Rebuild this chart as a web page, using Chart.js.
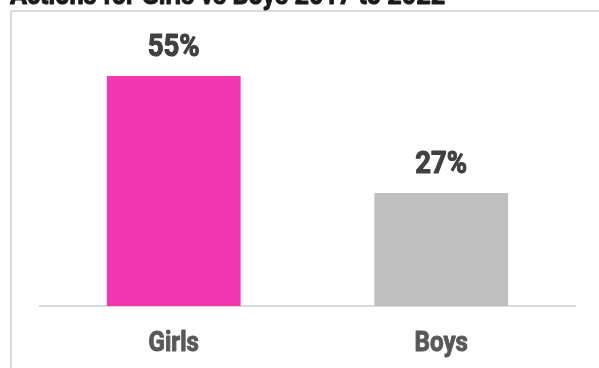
<!DOCTYPE html>
<html>
<head>
<meta charset="utf-8">
<script src="https://cdn.jsdelivr.net/npm/chart.js@4/dist/chart.umd.min.js"></script>
<style>
  html, body { margin: 0; padding: 0; background: #ffffff; }
  #wrap { position: relative; width: 599px; height: 368px; overflow: hidden; }
  #frame {
    position: absolute; left: 10px; top: 10px; width: 620px; height: 400px;
    border-left: 2px solid #dadada; border-top: 2px solid #dadada;
  }
  #chart { position: absolute; left: 0; top: 0; }
</style>
</head>
<body>
<div id="wrap">
  <div id="frame"></div>
  <canvas id="chart" width="599" height="368"></canvas>
</div>
<script>
// Share of actions by gender, 2017 to 2022
const titleText = 'Actions for Girls vs Boys 2017 to 2022';
const categories = ['Girls', 'Boys'];
const shares = [55, 27];
const barColors = ['#F337B1', '#BFBFBF'];

const FONT = 'Roboto, "Liberation Sans", sans-serif';

// bold face, narrowed horizontally and lightly stroked for weight
function squeezedText(ctx, text, x, y, size, color, squeeze) {
  ctx.save();
  ctx.font = '700 ' + size + 'px ' + FONT;
  ctx.fillStyle = color;
  ctx.strokeStyle = color;
  ctx.lineWidth = size * 0.035;
  ctx.lineJoin = 'round';
  ctx.textBaseline = 'alphabetic';
  ctx.translate(x, y);
  ctx.scale(squeeze, 1);
  ctx.fillText(text, 0, 0);
  ctx.strokeText(text, 0, 0);
  ctx.restore();
}

function squeezedCentered(ctx, text, cx, y, size, color, squeeze) {
  ctx.save();
  ctx.font = '700 ' + size + 'px ' + FONT;
  const w = ctx.measureText(text).width * squeeze;
  ctx.restore();
  squeezedText(ctx, text, cx - w / 2, y, size, color, squeeze);
}

const textPlugin = {
  id: 'chartText',
  afterDatasetsDraw(chart) {
    const ctx = chart.ctx;
    // heading
    squeezedText(ctx, titleText, 10, 4, 28, '#1a1a1a', 0.9);
    // value above each bar
    const meta = chart.getDatasetMeta(0);
    meta.data.forEach((bar, i) => {
      squeezedCentered(ctx, shares[i] + '%', bar.x, bar.y - 20, 32, '#404040', 0.86);
    });
    // category names under the axis
    const xs = chart.scales.x;
    categories.forEach((c, i) => {
      squeezedCentered(ctx, c, xs.getPixelForValue(i), chart.chartArea.bottom + 45, 28, '#595959', 0.86);
    });
  }
};

new Chart(document.getElementById('chart'), {
  type: 'bar',
  data: {
    labels: categories,
    datasets: [{
      data: shares,
      backgroundColor: barColors,
      borderWidth: 0,
      barPercentage: 0.5,
      categoryPercentage: 1.0
    }]
  },
  options: {
    responsive: false,
    animation: false,
    layout: { padding: { left: 40, right: 24, top: 55, bottom: 62 } },
    plugins: {
      legend: { display: false },
      title: { display: false },
      tooltip: { enabled: false }
    },
    scales: {
      x: {
        grid: { display: false, drawTicks: false },
        border: { display: true, color: '#d9d9d9', width: 2 },
        ticks: { display: false }
      },
      y: {
        display: false,
        min: 0,
        max: 60
      }
    }
  },
  plugins: [textPlugin]
});
</script>
</body>
</html>
